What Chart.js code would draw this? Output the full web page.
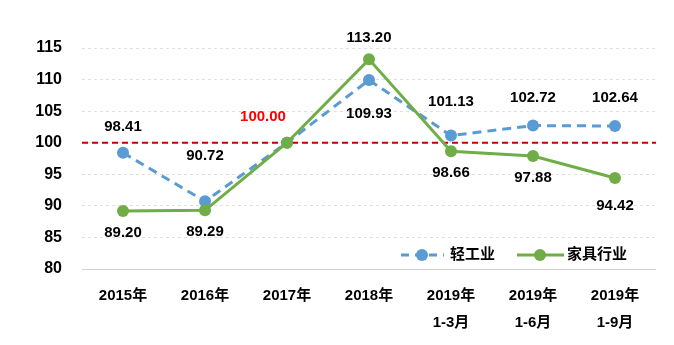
<!DOCTYPE html>
<html>
<head>
<meta charset="utf-8">
<script src="https://cdn.jsdelivr.net/npm/chart.js@4.4.1/dist/chart.umd.min.js"></script>
<style>
  html, body { margin: 0; padding: 0; background: #fff; }
  #wrap { width: 674px; height: 345px; }
</style>
</head>
<body>
<div id="wrap"><canvas id="lineChart" width="674" height="345"></canvas></div>
<script>
// ===== Data =====
const categories = ["2015年", "2016年", "2017年", "2018年", ["2019年", "1-3月"], ["2019年", "1-6月"], ["2019年", "1-9月"]];
const lightIndustry = [98.41, 90.72, 100.00, 109.93, 101.13, 102.72, 102.64];
const furniture = [89.20, 89.29, 100.00, 113.20, 98.66, 97.88, 94.42];
const yTicks = [80, 85, 90, 95, 100, 105, 110, 115];
const baseline = 100;

const FONT = '"Liberation Sans", "Noto Sans CJK SC", sans-serif';

// label offsets (dx, dy) relative to each point, per series
const blueOffsets = [[0, -26], [0, -45], null, [0, 34], [0, -34], [0, -28], [0, -28]];
const greenOffsets = [[0, 22], [0, 22], [-24, -26], [0, -22], [0, 22], [0, 22], [0, 28]];

// ===== Plugins =====
const baselinePlugin = {
    id: "baseline",
    beforeDatasetsDraw(chart) {
        const { ctx, chartArea, scales } = chart;
        const y = scales.y.getPixelForValue(baseline);
        ctx.save();
        ctx.strokeStyle = "#C00000";
        ctx.lineWidth = 2;
        ctx.setLineDash([6, 4]);
        ctx.beginPath();
        ctx.moveTo(chartArea.left, y);
        ctx.lineTo(chartArea.right, y);
        ctx.stroke();
        ctx.restore();
    }
};

const labelPlugin = {
    id: "pointLabels",
    afterDatasetsDraw(chart) {
        const { ctx } = chart;
        const offsets = [blueOffsets, greenOffsets];
        ctx.save();
        ctx.font = "bold 15px " + FONT;
        ctx.textAlign = "center";
        ctx.textBaseline = "middle";
        chart.data.datasets.forEach((ds, di) => {
            chart.getDatasetMeta(di).data.forEach((pt, i) => {
                const off = offsets[di][i];
                if (!off) return;
                const isRed = di === 1 && i === 2;
                ctx.fillStyle = isRed ? "#FF0000" : "#000";
                ctx.fillText(ds.data[i].toFixed(2), pt.x + off[0], pt.y + off[1]);
            });
        });
        ctx.restore();
    }
};

const legendPlugin = {
    id: "innerLegend",
    afterDraw(chart) {
        const { ctx } = chart;
        const y = 255;
        ctx.save();
        ctx.font = "bold 15px " + FONT;
        ctx.textBaseline = "middle";
        ctx.textAlign = "left";
        // 轻工业
        ctx.strokeStyle = "#5B9BD5";
        ctx.lineWidth = 3;
        ctx.setLineDash([8, 6]);
        ctx.beginPath();
        ctx.moveTo(401, y);
        ctx.lineTo(444, y);
        ctx.stroke();
        ctx.setLineDash([]);
        ctx.fillStyle = "#5B9BD5";
        ctx.beginPath();
        ctx.arc(422, y, 6, 0, Math.PI * 2);
        ctx.fill();
        ctx.fillStyle = "#000";
        ctx.fillText("轻工业", 450, y);
        // 家具行业
        ctx.strokeStyle = "#70AD47";
        ctx.beginPath();
        ctx.moveTo(517, y);
        ctx.lineTo(564, y);
        ctx.stroke();
        ctx.fillStyle = "#70AD47";
        ctx.beginPath();
        ctx.arc(540, y, 6, 0, Math.PI * 2);
        ctx.fill();
        ctx.fillStyle = "#000";
        ctx.fillText("家具行业", 567, y);
        ctx.restore();
    }
};

// ===== Chart =====
const ctx = document.getElementById("lineChart").getContext("2d");
new Chart(ctx, {
    type: "line",
    data: {
        labels: categories,
        datasets: [{
            label: "轻工业",
            data: lightIndustry,
            borderColor: "#5B9BD5",
            backgroundColor: "#5B9BD5",
            borderWidth: 3,
            borderDash: [9, 6],
            pointRadius: 6,
            pointBorderWidth: 0,
            tension: 0,
            order: 1
        }, {
            label: "家具行业",
            data: furniture,
            borderColor: "#70AD47",
            backgroundColor: "#70AD47",
            borderWidth: 3,
            pointRadius: 6,
            pointBorderWidth: 0,
            tension: 0,
            order: 0
        }]
    },
    options: {
        responsive: false,
        animation: false,
        layout: { padding: { top: 48, right: 18, bottom: 0, left: 0 } },
        plugins: {
            legend: { display: false },
            tooltip: { enabled: false }
        },
        scales: {
            x: {
                offset: true,
                grid: { display: false, drawTicks: false },
                border: { display: false },
                ticks: {
                    color: "#000",
                    font: { family: FONT, size: 15, weight: "bold", lineHeight: 1.75 },
                    padding: 14,
                    maxRotation: 0
                },
                afterFit(scale) { scale.height = 76; }
            },
            y: {
                min: 80,
                max: 115,
                afterBuildTicks(scale) { scale.ticks = yTicks.map(v => ({ value: v })); },
                grid: {
                    color: ctx => ctx.tick.value === 80 ? "#D0D0D0" : "#E0E0E0",
                    lineWidth: 1,
                    drawTicks: false
                },
                border: { display: false, dash: ctx => ctx.tick && ctx.tick.value === 80 ? [] : [3, 3] },
                ticks: {
                    color: "#000",
                    font: { family: FONT, size: 16, weight: "bold" },
                    padding: 20
                },
                afterFit(scale) { scale.width = 82; }
            }
        }
    },
    plugins: [baselinePlugin, labelPlugin, legendPlugin]
});
</script>
</body>
</html>
